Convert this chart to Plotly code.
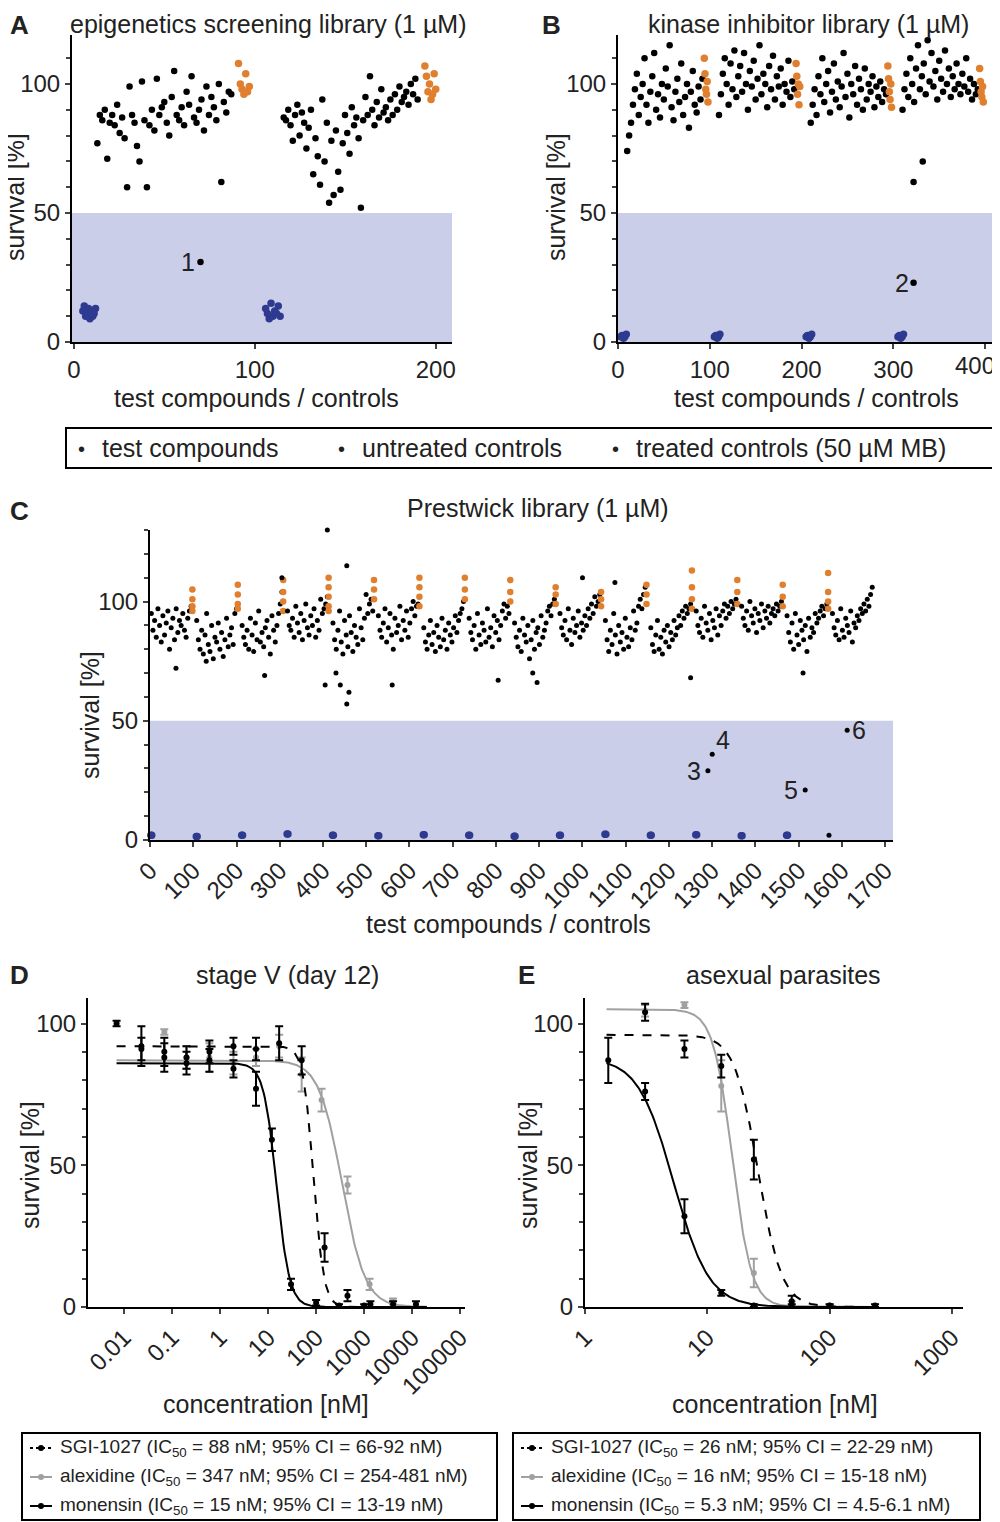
import numpy as np
import plotly.graph_objects as go

BLACK = "#000000"
ORANGE = "#E07F2E"
BLUE = "#2E3A8F"
SHADE = "rgba(160,165,215,0.55)"
GRAY = "#A0A0A0"
FONT = "Liberation Sans, Arial, sans-serif"

# ---------------- panel A: epigenetics screening library ----------------
a_test1 = [77,88,86,90,71,85,88,84,92,81,87,79,60,99,88,85,76,70,101,86,60,84,90,82,102,88,91,93,85,80,95,
           105,88,86,91,84,97,92,103,87,85,90,94,82,99,88,95,91,86,100,62,93,89,97,96]
a_test2 = [87,86,90,84,78,88,92,80,89,85,75,83,90,65,79,72,61,94,70,85,54,78,57,82,66,59,77,88,81,73,91,84,
           87,79,52,86,95,88,103,90,84,93,87,98,89,91,86,94,88,96,90,99,93,95,97,92,100,96,102,94]
a_treated1 = [108,100,98,96,104,97,99]
a_treated2 = [107,103,97,100,94,96,104,98]
a_untreated1 = [12,14,10,11,13,9,12,10,11,13]
a_untreated2 = [13,11,9,15,10,12,11,14,10]
a_hit_x, a_hit_y = [70], [31]

# ---------------- panel B: kinase inhibitor library ----------------
b_plates = [
    [74,80,85,92,98,104,88,95,100,110,92,85,97,103,112,90,96,87,100,94,106,99,115,91,86,97,102,93,108,88,95,100,83,97,105,92,89,99,94,102],
    [88,96,104,110,100,92,108,98,113,95,103,107,97,112,100,90,105,99,109,94,102,115,96,104,100,91,107,98,111,94,103,99,106,92,100,97,109,95,101,98],
    [85,92,98,88,103,96,110,93,100,105,89,97,108,94,101,91,99,112,95,104,87,100,96,107,92,102,98,90,106,94,100,97,103,91,99,95,101,93,98,96],
    [90,98,104,95,110,100,93,106,115,98,103,108,96,117,101,112,99,105,94,109,102,97,113,100,106,95,103,98,108,100,96,104,99,110,97,102,94,100,96,98],
]
b_treated = [[110,104,98,96,101,93], [108,103,96,100,92,99], [107,102,97,94,100,91], [106,101,97,95,99,93]]
b_untreated = [2, 2.5, 1.5, 2, 3]
b_outlier_x, b_outlier_y = [322, 332], [62, 70]
b_hit_x, b_hit_y = [322], [23]
b_ticks = [0, 100, 200, 300, 400]

# ---------------- panel C: Prestwick library ----------------
c_plates = [
    [95,88,92,85,97,90,83,94,86,91,96,80,89,93,84,97,87,92,90,95,88,85,93,96,98],
    [92,84,80,88,78,86,95,82,79,90,76,85,83,91,80,87,77,84,93,81,86,89,82,95,97],
    [90,85,82,88,80,93,86,79,91,84,96,83,87,81,89,92,85,78,94,88,83,90,95,99,104],
    [96,90,88,93,85,98,91,87,95,84,92,99,89,86,94,90,97,85,92,88,101,95,97,99,102],
    [91,84,80,88,96,83,78,92,86,81,94,87,79,90,85,82,97,89,84,93,103,95,99,101,96],
    [94,88,85,91,97,83,89,95,86,80,93,87,90,98,84,92,88,96,85,91,97,100,94,98,99],
    [89,83,80,86,92,82,87,79,90,85,81,93,84,88,80,91,86,83,89,94,87,92,95,97,100],
    [93,87,84,90,80,95,86,82,91,88,83,97,85,89,81,94,87,92,84,90,96,99,93,98,95],
    [91,85,81,88,79,93,86,83,90,76,84,92,80,87,89,82,94,85,88,91,96,98,94,99,101],
    [95,89,86,92,84,97,88,82,93,87,90,96,85,91,88,94,90,97,93,99,95,102,98,100,103],
    [92,84,79,88,82,95,86,78,90,83,87,80,93,85,81,89,84,96,88,91,98,101,97,103,106],
    [89,82,79,86,92,80,85,78,88,83,90,81,87,84,92,86,89,94,90,96,93,98,95,97,99],
    [96,90,87,93,85,98,91,88,95,84,92,89,97,86,94,90,96,99,93,98,95,100,97,99,101],
    [98,93,90,96,88,100,94,91,97,87,95,92,99,89,96,93,98,91,95,97,94,99,96,98,100],
    [94,87,83,91,80,95,86,82,92,88,84,90,79,93,85,89,87,95,91,93,96,98,94,97,99],
    [95,89,86,92,84,97,88,85,93,90,87,96,83,91,89,94,92,97,95,99,96,101,98,103,106],
]
c_plate_start = [0,105,210,315,420,525,630,735,840,945,1050,1155,1260,1365,1470,1575]
c_treated = [[105,101,98,96], [107,103,99,97], [109,104,100,96], [110,106,102,98,96], [109,105,101],
             [110,106,102,98], [110,105,101], [109,104,100], [106,103,99], [104,101,98],
             [107,103,99], [113,106,101,97], [109,104,99], [107,102,98], [112,104,100,97]]
c_untreated = [2,1.5,2,2.5,2,1.8,2.2,2,1.6,2,2.4,2,2.2,1.8,2,2]
c_outlier_x = [60,130,265,305,405,410,430,440,455,455,460,560,805,885,895,1000,1075,1250,1510]
c_outlier_y = [72,75,69,110,65,130,70,65,57,115,62,65,67,70,66,110,108,68,70]
c_hit_x = [1290,1300,1515,1612,1570]
c_hit_y = [29,36,21,46,2]
c_hit_labels = ["3","4","5","6",""]

# ---------------- panel D / E: dose response ----------------
d_sgi_x = [0.023,0.069,0.2,0.6,1.9,5.6,17,50,150,450,1350,4000,12000]
d_sgi_y = [92,90,88,90,92,91,93,87,21,4,1,1,1]
d_sgi_e = [7,5,4,4,3,4,6,5,5,2,1,1,1]
d_alx_x = [0.069,0.2,0.6,1.9,5.6,17,50,130,450,1300,4000]
d_alx_y = [97,88,88,86,88,92,82,73,43,8,2]
d_alx_e = [1,4,5,4,3,4,6,4,3,2,1]
d_mon_x = [0.007,0.023,0.069,0.2,0.6,1.9,5.6,12,30,100,300,1000]
d_mon_y = [100,91,88,86,87,84,77,59,8,1.5,0.5,0.5]
d_mon_e = [1,4,5,4,4,3,6,4,2,1,0.5,0.5]
d_fits = {"sgi": (92, 0, 88, 4.0), "alx": (87, 0, 347, 1.8), "mon": (86, 0, 15, 3.2)}

e_sgi_x = [3.1,6.5,13,24,49,100,235]
e_sgi_y = [104,91,85,52,2,0.5,0.5]
e_sgi_e = [3,3,4,7,2,0.5,0.5]
e_alx_x = [3.1,6.5,13,24,49,100]
e_alx_y = [104.5,106.5,78,12,1,0.5]
e_alx_e = [2,1,9,5,1,0.5]
e_mon_x = [1.55,3.1,6.5,13,24,49]
e_mon_y = [87,76,32,5,0.5,0.5]
e_mon_e = [8,3,6,1,0.5,0.5]
e_fits = {"sgi": (96, 0, 26, 4.5), "alx": (105, 0, 16, 5.5), "mon": (88, 0, 5.3, 3.0)}

legend_d = ["SGI-1027 (IC<sub>50</sub> = 88 nM; 95% CI = 66-92 nM)",
            "alexidine (IC<sub>50</sub> = 347 nM; 95% CI = 254-481 nM)",
            "monensin (IC<sub>50</sub> = 15 nM; 95% CI = 13-19 nM)"]
legend_e = ["SGI-1027 (IC<sub>50</sub> = 26 nM; 95% CI = 22-29 nM)",
            "alexidine (IC<sub>50</sub> = 16 nM; 95% CI = 15-18 nM)",
            "monensin (IC<sub>50</sub> = 5.3 nM; 95% CI = 4.5-6.1 nM)"]


def hill(x, top, bottom, ic50, h):
    return bottom + (top - bottom) / (1 + (x / ic50) ** h)


fig = go.Figure()


def pts(x, y, color, size, ax):
    fig.add_trace(go.Scatter(x=x, y=y, mode="markers", xaxis="x" + ax, yaxis="y" + ax,
                             marker=dict(color=color, size=size, line=dict(width=0)),
                             showlegend=False, hoverinfo="skip", cliponaxis=False))


# A
pts(np.linspace(13, 87, len(a_test1)), a_test1, BLACK, 6.5, "")
pts(np.linspace(116, 190, len(a_test2)), a_test2, BLACK, 6.5, "")
pts(np.linspace(91, 97, len(a_treated1)), a_treated1, ORANGE, 7.5, "")
pts(np.linspace(194, 200, len(a_treated2)), a_treated2, ORANGE, 7.5, "")
pts(np.linspace(5, 12, len(a_untreated1)), a_untreated1, BLUE, 7.5, "")
pts(np.linspace(106, 114, len(a_untreated2)), a_untreated2, BLUE, 7.5, "")
pts(a_hit_x, a_hit_y, BLACK, 6.5, "")

# B
for i, vals in enumerate(b_plates):
    s = i * 100
    pts(np.linspace(s + 10, s + 92, len(vals)), vals, BLACK, 6.5, "2")
    pts(np.linspace(s + 94, s + 98, len(b_treated[i])), b_treated[i], ORANGE, 7.5, "2")
    pts(np.linspace(s + 3 + (2 if i else 0), s + 9 + (2 if i else 0), len(b_untreated)), b_untreated, BLUE, 7.5, "2")
pts(b_outlier_x, b_outlier_y, BLACK, 6.5, "2")
pts(b_hit_x, b_hit_y, BLACK, 6.5, "2")

# C
for i, vals in enumerate(c_plates):
    s = c_plate_start[i]
    pts(np.linspace(s + 3, s + 95, len(vals)), vals, BLACK, 5, "3")
    if i < len(c_treated):
        pts(np.full(len(c_treated[i]), s + 98), c_treated[i], ORANGE, 6.5, "3")
    if i < 15:
        pts([s + 2, s + 4], [c_untreated[i]] * 2, BLUE, 7.5, "3")
pts(c_outlier_x, c_outlier_y, BLACK, 5, "3")
pts(c_hit_x, c_hit_y, BLACK, 5, "3")

# D / E
def dose(ax, data, fits, xlo, xhi):
    xs = np.logspace(np.log10(xlo), np.log10(xhi), 300)
    styles = {"sgi": (BLACK, "dash"), "alx": (GRAY, "solid"), "mon": (BLACK, "solid")}
    for key in ["alx", "sgi", "mon"]:
        x, y, e = data[key]
        col, dash = styles[key]
        fig.add_trace(go.Scatter(x=xs, y=hill(xs, *fits[key]), mode="lines", xaxis="x" + ax, yaxis="y" + ax,
                                 line=dict(color=col, width=2, dash=dash), showlegend=False, hoverinfo="skip"))
        fig.add_trace(go.Scatter(x=x, y=y, mode="markers", xaxis="x" + ax, yaxis="y" + ax,
                                 marker=dict(color=col, size=6),
                                 error_y=dict(type="data", array=e, color=col, thickness=2, width=4),
                                 showlegend=False, hoverinfo="skip", cliponaxis=False))


dose("4", {"sgi": (d_sgi_x, d_sgi_y, d_sgi_e), "alx": (d_alx_x, d_alx_y, d_alx_e),
           "mon": (d_mon_x, d_mon_y, d_mon_e)}, d_fits, 0.007, 20000)
dose("5", {"sgi": (e_sgi_x, e_sgi_y, e_sgi_e), "alx": (e_alx_x, e_alx_y, e_alx_e),
           "mon": (e_mon_x, e_mon_y, e_mon_e)}, e_fits, 1.5, 250)

# the page adds an 8 px body margin, so the figure is drawn 8 px smaller
W, H, OFF = 992.0, 1514.0, 8.0


def px(x):
    return min(1.0, (x - OFF) / W)


def py(y):
    return min(1.0, 1 - (y - OFF) / H)


def dx(left, right):
    return [px(left), px(right)]


def dy(top, bottom):
    return [py(bottom), py(top)]


tickf = dict(family=FONT, size=24, color="#222")
common = dict(showline=True, linecolor="black", linewidth=2, ticks="outside", ticklen=5, tickwidth=2,
              showgrid=False, zeroline=False, tickfont=tickf, automargin=False)
yaxis_common = dict(common, tickvals=[0, 50, 100], minor=dict(ticks="outside", ticklen=4, dtick=10, tickwidth=1.5))

fig.update_layout(
    width=W, height=H, margin=dict(l=0, r=0, t=0, b=0, autoexpand=False),
    plot_bgcolor="white", paper_bgcolor="white", font=dict(family=FONT),
    xaxis=dict(common, domain=dx(72, 452), range=[-1, 209], tickvals=[0, 100, 200], anchor="y"),
    yaxis=dict(yaxis_common, domain=dy(35, 342), range=[0, 119], anchor="x"),
    xaxis2=dict(common, domain=dx(618, 998), range=[0, 414], tickvals=b_ticks,
                ticktext=[str(t) for t in b_ticks[:-1]] + [""], anchor="y2"),
    yaxis2=dict(yaxis_common, domain=dy(35, 342), range=[0, 119], anchor="x2"),
    xaxis3=dict(common, domain=dx(150, 893), range=[0, 1718], tickvals=list(range(0, 1701, 100)),
                tickangle=-45, anchor="y3"),
    yaxis3=dict(yaxis_common, domain=dy(530, 840), range=[0, 130], anchor="x3"),
    xaxis4=dict(common, type="log", domain=dx(88, 465), range=[-2.75, 5.1],
                tickvals=[0.01, 0.1, 1, 10, 100, 1000, 10000, 100000],
                ticktext=["0.01", "0.1", "1", "10", "100", "1000", "10000", "100000"],
                tickangle=-45, anchor="y4"),
    yaxis4=dict(yaxis_common, domain=dy(998, 1307), range=[0, 109], anchor="x4"),
    xaxis5=dict(common, type="log", domain=dx(585, 963), range=[0, 3.09],
                tickvals=[1, 10, 100, 1000], ticktext=["1", "10", "100", "1000"],
                tickangle=-45, anchor="y5"),
    yaxis5=dict(yaxis_common, domain=dy(998, 1307), range=[0, 109], anchor="x5"),
)

shapes = []
for ax in ["", "2", "3"]:
    shapes.append(dict(type="rect", xref="x" + ax + " domain", yref="y" + ax, x0=0, x1=1, y0=0, y1=50,
                       fillcolor=SHADE, line=dict(width=0), layer="below"))

ann = []


def text(x, y, s, size=24, bold=False, xanchor="left", yanchor="middle", angle=0, color="#222"):
    ann.append(dict(x=px(x), y=py(y), xref="paper", yref="paper", text=("<b>%s</b>" % s) if bold else s,
                    showarrow=False, xanchor=xanchor, yanchor=yanchor, textangle=angle,
                    font=dict(family=FONT, size=size, color=color)))


# panel letters and titles (the top row sits against the page edge)
text(8, 8, "A", 26, True, yanchor="top")
text(268, 8, "epigenetics screening library (1 µM)", 25, xanchor="center", yanchor="top")
text(540, 8, "B", 26, True, yanchor="top")
text(808, 8, "kinase inhibitor library (1 µM)", 25, xanchor="center", yanchor="top")
text(8, 511, "C", 26, True)
text(538, 508, "Prestwick library (1 µM)", 25, xanchor="center")
text(8, 975, "D", 26, True)
text(287, 975, "stage V (day 12)", 25, xanchor="center")
text(516, 975, "E", 26, True)
text(783, 975, "asexual parasites", 25, xanchor="center")

# last tick label of panel B, which runs against the page edge
ann.append(dict(x=b_ticks[-1], y=0, xref="x2", yref="y2", text=str(b_ticks[-1]), showarrow=False,
                xanchor="right", yanchor="top", xshift=12, yshift=-8, font=tickf))

# axis titles
for x, y in [(256, 398), (816, 398), (508, 924)]:
    text(x, y, "test compounds / controls", 25, xanchor="center")
for x in [266, 775]:
    text(x, 1404, "concentration [nM]", 25, xanchor="center")
for x, y in [(15, 197), (556, 197), (90, 715), (30, 1165), (528, 1165)]:
    text(x, y, "survival [%]", 25, xanchor="center", angle=-90)

# hit labels
ann.append(dict(x=a_hit_x[0], y=a_hit_y[0], xref="x", yref="y", text="1", showarrow=False, xanchor="right",
                xshift=-3, font=dict(family=FONT, size=25, color="#222")))
ann.append(dict(x=b_hit_x[0], y=b_hit_y[0], xref="x2", yref="y2", text="2", showarrow=False, xanchor="right",
                xshift=-3, font=dict(family=FONT, size=25, color="#222")))
offs = [(-5, 0, "right"), (2, 14, "left"), (-5, 0, "right"), (3, 0, "left")]
for i in range(4):
    ddx, ddy, xa = offs[i]
    ann.append(dict(x=c_hit_x[i], y=c_hit_y[i], xref="x3", yref="y3", text=c_hit_labels[i], showarrow=False,
                    xanchor=xa, xshift=ddx, yshift=ddy, font=dict(family=FONT, size=25, color="#222")))

# middle legend
shapes.append(dict(type="rect", xref="paper", yref="paper", x0=px(66), x1=px(997), y0=py(468), y1=py(428),
                   line=dict(color="black", width=2)))
for xp, s in [(76, "test compounds"), (336, "untreated controls"), (610, "treated controls (50 µM MB)")]:
    text(xp, 449, "•", 20)
    text(xp + 24, 448, s, 25)


# bottom legends
def legend_box(x0, x1, entries):
    shapes.append(dict(type="rect", xref="paper", yref="paper", x0=px(x0), x1=px(x1),
                       y0=py(1520), y1=py(1433), line=dict(color="black", width=2)))
    cols = [(BLACK, "dot"), (GRAY, "solid"), (BLACK, "solid")]
    for i, s in enumerate(entries):
        yy = 1448 + i * 29
        col, dash = cols[i]
        shapes.append(dict(type="line", xref="paper", yref="paper", x0=px(x0 + 8), x1=px(x0 + 30),
                           y0=py(yy), y1=py(yy), line=dict(color=col, width=2, dash=dash)))
        shapes.append(dict(type="circle", xref="paper", yref="paper", x0=px(x0 + 16), x1=px(x0 + 22),
                           y0=py(yy + 3), y1=py(yy - 3), fillcolor=col, line=dict(width=0)))
        text(x0 + 36, yy, s, 19)


legend_box(22, 497, legend_d)
legend_box(513, 980, legend_e)

fig.update_layout(shapes=shapes, annotations=ann)
fig.write_html("out.html")
